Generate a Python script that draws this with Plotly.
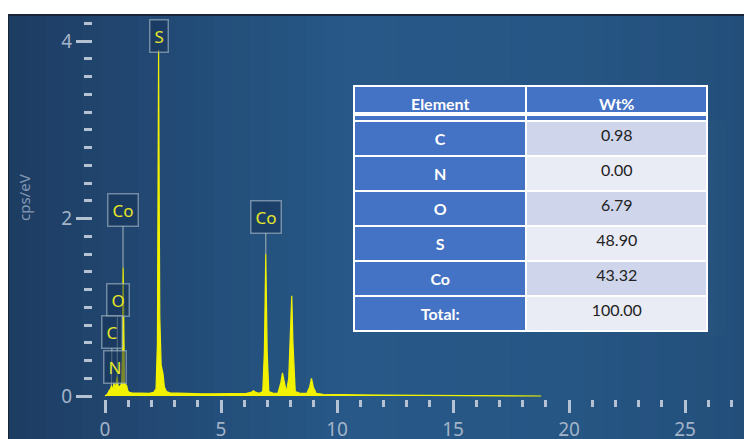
import plotly.graph_objects as go

# ---------------- data ----------------
energy_kev = [
    0.00, 0.10, 0.18, 0.24, 0.28, 0.32, 0.36, 0.39, 0.42, 0.46,
    0.50, 0.53, 0.56, 0.60, 0.64, 0.68, 0.72, 0.75, 0.78, 0.81,
    0.84, 0.88, 0.93, 0.98, 1.05, 1.15, 1.30, 1.60, 1.90, 2.10,
    2.20, 2.26, 2.31, 2.36, 2.42, 2.46, 2.50, 2.56, 2.65, 2.80,
    3.20, 3.70, 4.20, 4.70, 5.20, 5.70, 6.10, 6.30, 6.40, 6.50,
    6.65, 6.80, 6.87, 6.93, 6.99, 7.06, 7.25, 7.45, 7.58, 7.65,
    7.72, 7.82, 7.92, 8.00, 8.05, 8.10, 8.20, 8.40, 8.70, 8.82,
    8.90, 8.98, 9.10, 9.40, 10.0, 11.0, 12.0, 13.0, 14.0, 15.0,
    16.0, 17.0, 18.0, 18.8,
]
cps_per_ev = [
    0.00, 0.02, 0.06, 0.08, 0.12, 0.07, 0.10, 0.15, 0.09, 0.11,
    0.18, 0.22, 0.12, 0.10, 0.11, 0.12, 0.16, 0.45, 1.45, 0.40,
    0.15, 0.13, 0.12, 0.06, 0.04, 0.035, 0.035, 0.03, 0.03, 0.04,
    0.08, 0.60, 3.90, 0.90, 0.35, 0.30, 0.25, 0.10, 0.05, 0.035,
    0.03, 0.03, 0.025, 0.025, 0.025, 0.025, 0.03, 0.04, 0.06, 0.04,
    0.03, 0.05, 0.50, 1.60, 0.50, 0.05, 0.03, 0.03, 0.15, 0.26,
    0.15, 0.04, 0.20, 0.70, 1.13, 0.60, 0.05, 0.03, 0.03, 0.10,
    0.20, 0.10, 0.03, 0.02, 0.015, 0.012, 0.010, 0.008, 0.006, 0.005,
    0.004, 0.003, 0.002, 0.0,
]

# peak labels: element, line energy, peak height, label centre position
label_text = ["S", "Co", "Co", "O", "C", "N"]
label_energy = [2.31, 0.776, 6.93, 0.525, 0.277, 0.392]
label_peak = [3.90, 1.45, 1.60, 0.22, 0.12, 0.15]
label_box_y = [4.06, 2.10, 2.02, 1.08, 0.72, 0.33]
label_box_x = [2.31, 0.776, 6.93, 0.54, 0.30, 0.42]

# composition table
table_elements = ["C", "N", "O", "S", "Co", "Total:"]
table_wt = ["0.98", "0.00", "6.79", "48.90", "43.32", "100.00"]
table_header = ["Element", "Wt%"]

x_major_ticks = [0, 5, 10, 15, 20, 25]
x_minor_ticks = [i for i in range(0, 28) if i % 5 != 0]
y_major_ticks = [0, 2, 4]
y_minor_ticks = [round(0.2 * i, 1) for i in range(0, 22) if i % 10 != 0]

# ---------------- figure ----------------
# The page body has an 8 px margin, so the figure starts at screen (8, 8).
OFF = 8
SCR_W, SCR_H = 752, 439
PLOT_X0, PLOT_Y0 = 8, 15          # screen px of plot area's top-left
W, H = SCR_W - OFF, SCR_H - OFF
ML, MT = PLOT_X0 - OFF, PLOT_Y0 - OFF
PW, PH = W - ML, H - MT

def px_x(sx):   # screen x -> paper fraction
    return (sx - PLOT_X0) / PW

def px_y(sy):   # screen y -> paper fraction
    return (SCR_H - sy) / PH

X0_PX, X_SCALE = 105, 23.2        # screen px of 0 keV, px per keV
Y0_PX, Y_SCALE = 396, 88.7        # screen px of 0 cps/eV, px per unit

fig = go.Figure()

fig.add_trace(go.Scatter(
    x=energy_kev, y=cps_per_ev, mode="lines",
    line=dict(color="#f2f200", width=1.2),
    fill="tozeroy", fillcolor="#f2f200",
    hoverinfo="skip", showlegend=False,
))

# composition table
n = len(table_elements)
right_fill = ["#cfd5ea" if i % 2 == 0 else "#e9ebf5" for i in range(n)]
fig.add_trace(go.Table(
    domain=dict(x=[px_x(354), px_x(707)], y=[px_y(336), px_y(86)]),
    columnwidth=[172, 180],
    header=dict(values=[f"<b>{h}</b>" for h in table_header],
                fill_color="#4472c4", align="center", height=27,
                line=dict(color="white", width=2),
                font=dict(family="Lato", size=16, color="white")),
    cells=dict(values=[[f"<b>{e}</b>" for e in table_elements], table_wt],
               fill_color=[["#4472c4"] * n, right_fill],
               align="center", height=35,
               line=dict(color="white", width=2),
               font=dict(family="Lato", size=16, color=["white", "#222222"])),
))

# background gradient stripes (decoration)
stops = [(0.0, (29, 60, 98)), (0.15, (33, 70, 112)), (0.45, (39, 88, 135)),
         (0.75, (38, 86, 132)), (1.0, (35, 78, 122))]
def col_at(t):
    for (t0, c0), (t1, c1) in zip(stops[:-1], stops[1:]):
        if t0 <= t <= t1:
            f = (t - t0) / (t1 - t0)
            return "rgb(%d,%d,%d)" % tuple(round(a + (b - a) * f) for a, b in zip(c0, c1))
    return "rgb(%d,%d,%d)" % stops[-1][1]

shapes = []
NS = 40
for i in range(NS):
    shapes.append(dict(type="rect", xref="paper", yref="paper",
                       x0=i / NS, x1=(i + 1) / NS + 0.002, y0=0, y1=1,
                       fillcolor=col_at((i + 0.5) / NS), line=dict(width=0),
                       layer="below"))
# dark frame line at top / left
shapes.append(dict(type="line", xref="paper", yref="paper", x0=0, x1=1, y0=1, y1=1,
                   line=dict(color="#1a2636", width=2)))
shapes.append(dict(type="line", xref="paper", yref="paper", x0=0, x1=0, y0=0, y1=1,
                   line=dict(color="#1a2636", width=2)))
# thick white rule under the table header
shapes.append(dict(type="rect", xref="paper", yref="paper",
                   x0=px_x(354), x1=px_x(707), y0=px_y(116), y1=px_y(112),
                   fillcolor="white", line=dict(width=0), layer="above"))

annotations = []
for t, e, p, by, bx in zip(label_text, label_energy, label_peak, label_box_y, label_box_x):
    annotations.append(dict(
        x=e, y=p, xref="x", yref="y", ax=bx, ay=by, axref="x", ayref="y",
        text=t, showarrow=True, arrowhead=0, arrowwidth=1.2,
        arrowcolor="rgba(190,200,190,0.7)", standoff=0,
        font=dict(family="Noto Sans", size=17, color="#e6e62a"),
        bgcolor="rgba(22,50,85,0.55)", bordercolor="rgba(160,178,195,0.65)",
        borderwidth=1.5, borderpad=4,
    ))
annotations.append(dict(
    x=px_x(24), y=px_y(198), xref="paper", yref="paper",
    xanchor="center", yanchor="middle",
    text="cps/eV", textangle=-90, showarrow=False,
    font=dict(family="Noto Sans", size=15, color="#8298b5"),
))

tick_font = dict(family="Noto Sans", size=19, color="#a3b3c8")
fig.update_layout(
    width=W, height=H,
    margin=dict(l=ML, r=0, t=MT, b=0, pad=0, autoexpand=False),
    paper_bgcolor="white", plot_bgcolor="#245080",
    showlegend=False,
    shapes=shapes, annotations=annotations,
    xaxis=dict(range=[(PLOT_X0 - X0_PX) / X_SCALE, (SCR_W - X0_PX) / X_SCALE],
               anchor="free", position=px_y(399), automargin=False,
               showgrid=False, zeroline=False, showline=False,
               tickmode="array", tickvals=x_major_ticks,
               ticks="outside", ticklen=13, tickwidth=3, tickcolor="#b4c2d4",
               tickfont=tick_font,
               minor=dict(tickmode="array", tickvals=x_minor_ticks, ticks="outside",
                          ticklen=7, tickwidth=3, tickcolor="#b4c2d4", showgrid=False)),
    yaxis=dict(range=[(Y0_PX - SCR_H) / Y_SCALE, (Y0_PX - PLOT_Y0) / Y_SCALE],
               anchor="free", position=px_x(92), automargin=False,
               showgrid=False, zeroline=False, showline=False,
               tickmode="array", tickvals=y_major_ticks,
               ticks="outside", ticklen=16, tickwidth=3, tickcolor="#b4c2d4",
               tickfont=tick_font,
               minor=dict(tickmode="array", tickvals=y_minor_ticks, ticks="outside",
                          ticklen=8, tickwidth=3, tickcolor="#b4c2d4", showgrid=False)),
)

fig.write_html("out.html")
